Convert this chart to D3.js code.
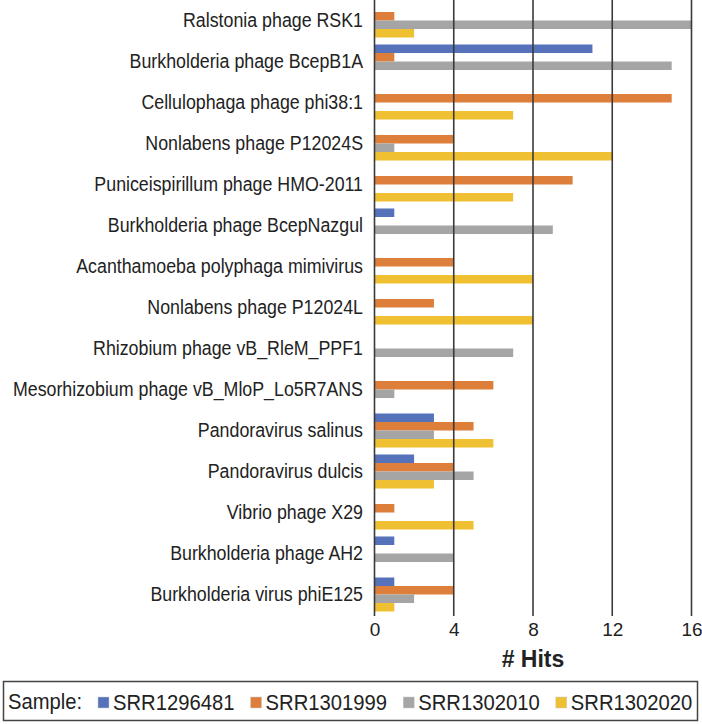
<!DOCTYPE html>
<html>
<head>
<meta charset="utf-8">
<script src="https://cdn.jsdelivr.net/npm/d3@7"></script>
<style>
  body { margin: 0; background: #fff; }
  text { font-family: "Liberation Sans", Arial, sans-serif; fill: #222; }
</style>
</head>
<body>
<div id="chart"></div>
<script>
// Data
var categories = [
    "Ralstonia phage RSK1",
    "Burkholderia phage BcepB1A",
    "Cellulophaga phage phi38:1",
    "Nonlabens phage P12024S",
    "Puniceispirillum phage HMO-2011",
    "Burkholderia phage BcepNazgul",
    "Acanthamoeba polyphaga mimivirus",
    "Nonlabens phage P12024L",
    "Rhizobium phage vB_RleM_PPF1",
    "Mesorhizobium phage vB_MloP_Lo5R7ANS",
    "Pandoravirus salinus",
    "Pandoravirus dulcis",
    "Vibrio phage X29",
    "Burkholderia phage AH2",
    "Burkholderia virus phiE125"
];
var samples = ["SRR1296481", "SRR1301999", "SRR1302010", "SRR1302020"];

var srr1296481 = [0, 11, 0, 0, 0, 1, 0, 0, 0, 0, 3, 2, 0, 1, 1];
var srr1301999 = [1, 1, 15, 4, 10, 0, 4, 3, 0, 6, 5, 4, 1, 0, 4];
var srr1302010 = [16, 15, 0, 1, 0, 9, 0, 0, 7, 1, 3, 5, 0, 4, 2];
var srr1302020 = [2, 0, 7, 12, 7, 0, 8, 8, 0, 0, 6, 3, 5, 0, 1];

var xTicks = [0, 4, 8, 12, 16];
var colors = ["#5572bb", "#dd7e3b", "#a5a5a5", "#efc132"];

var seriesValues = [srr1296481, srr1301999, srr1302010, srr1302020];

// Configuring SVG
var svgWidth = 702;
var svgHeight = 724;

var svg = d3.select("#chart")
    .append("svg")
    .attr("width", svgWidth)
    .attr("height", svgHeight);

// Scales
var xScale = d3.scaleLinear()
    .domain([0, 16])
    .range([374.5, 691.5]);

var yScale = d3.scaleBand()
    .domain(categories)
    .range([0, 615])
    .paddingInner(0.17)
    .paddingOuter(0.085);

var ySub = d3.scaleBand()
    .domain(samples)
    .range([0, yScale.bandwidth()]);

// Rows of bars
var rows = categories.map((c, i) => ({
    name: c,
    values: samples.map((s, j) => ({ sample: s, value: seriesValues[j][i], color: colors[j] }))
}));

var rowGroups = svg.append("g").selectAll("g")
    .data(rows)
    .enter()
    .append("g")
    .attr("transform", d => `translate(0, ${yScale(d.name)})`);

rowGroups.selectAll("rect")
    .data(d => d.values)
    .enter()
    .append("rect")
    .attr("x", xScale(0))
    .attr("y", d => ySub(d.sample))
    .attr("width", d => xScale(d.value) - xScale(0))
    .attr("height", ySub.bandwidth())
    .attr("fill", d => d.color);

// Gridlines and axis line
svg.append("g").selectAll("line")
    .data(xTicks)
    .enter()
    .append("line")
    .attr("x1", d => xScale(d))
    .attr("x2", d => xScale(d))
    .attr("y1", 0)
    .attr("y2", 616)
    .attr("stroke", "#3a3a3a")
    .attr("stroke-width", 1.6);

// x axis labels
var bottomAxis = d3.axisBottom(xScale)
    .tickValues(xTicks)
    .tickSize(0)
    .tickPadding(0);

var xAxis = svg.append("g")
    .attr("transform", "translate(0, 622)")
    .call(bottomAxis);
xAxis.select(".domain").remove();
xAxis.selectAll("text")
    .attr("dy", "0.71em")
    .attr("font-size", "19px")
    .attr("font-family", "Liberation Sans, Arial, sans-serif")
    .attr("fill", "#222");

// y axis labels (narrow, like the original font)
var leftAxis = d3.axisLeft(yScale)
    .tickSize(0)
    .tickPadding(0);

var yAxis = svg.append("g")
    .attr("transform", "translate(363, 0)")
    .call(leftAxis);
yAxis.select(".domain").remove();
yAxis.selectAll("text")
    .attr("x", 0)
    .attr("transform", "scale(0.89, 1)")
    .attr("font-size", "20px")
    .attr("font-family", "Liberation Sans, Arial, sans-serif")
    .attr("fill", "#222");

// x axis title
svg.append("text")
    .attr("x", xScale(8))
    .attr("y", 667)
    .attr("text-anchor", "middle")
    .attr("font-size", "23px")
    .attr("font-weight", "bold")
    .text("# Hits");

// Legend
var legend = svg.append("g");

legend.append("rect")
    .attr("x", 3.5)
    .attr("y", 681.5)
    .attr("width", 694)
    .attr("height", 39)
    .attr("fill", "none")
    .attr("stroke", "#444")
    .attr("stroke-width", 1.5);

legend.append("text")
    .attr("transform", "translate(8, 709) scale(0.92, 1)")
    .attr("font-size", "22px")
    .text("Sample:");

var items = legend.selectAll("g.item")
    .data(samples)
    .enter()
    .append("g")
    .attr("class", "item")
    .attr("transform", (d, i) => `translate(${98 + i * 152.6}, 0)`);

items.append("rect")
    .attr("x", 0)
    .attr("y", 697)
    .attr("width", 11)
    .attr("height", 11)
    .attr("fill", (d, i) => colors[i])
    .attr("stroke", "#ccc")
    .attr("stroke-width", 0.5);

items.append("text")
    .attr("transform", "translate(15, 709.5) scale(0.92, 1)")
    .attr("font-size", "22px")
    .text(d => d);
</script>
</body>
</html>
